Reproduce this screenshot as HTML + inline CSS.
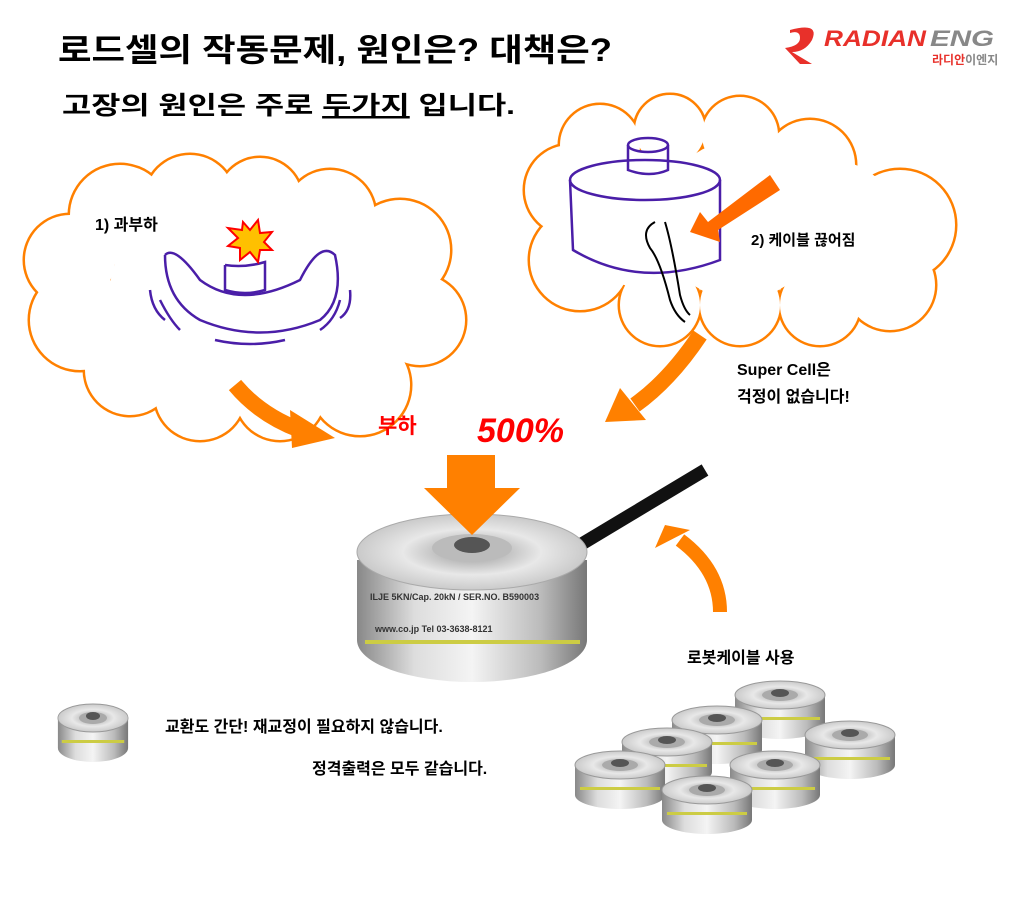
<!DOCTYPE html>
<html><head><meta charset="utf-8"><style>
body{margin:0;background:#fff;width:1020px;height:892px;overflow:hidden}
text{font-family:"Liberation Sans","Noto Sans CJK KR",sans-serif;font-weight:bold}
</style></head><body>
<svg width="1020" height="892" viewBox="0 0 1020 892" xmlns="http://www.w3.org/2000/svg">
<defs>
<linearGradient id="metal" x1="0" x2="1" y1="0" y2="0">
<stop offset="0" stop-color="#888"/><stop offset="0.25" stop-color="#ddd"/><stop offset="0.5" stop-color="#f4f4f4"/><stop offset="0.8" stop-color="#bbb"/><stop offset="1" stop-color="#777"/>
</linearGradient>
<radialGradient id="top" cx="0.5" cy="0.5" r="0.6"><stop offset="0" stop-color="#999"/><stop offset="0.5" stop-color="#e8e8e8"/><stop offset="1" stop-color="#bbb"/></radialGradient>
<g id="cell">
<path d="M-45 0 V30 A45 14 0 0 0 45 30 V0 Z" fill="url(#metal)"/>
<ellipse cx="0" cy="0" rx="45" ry="14" fill="url(#top)" stroke="#999"/>
<ellipse cx="0" cy="0" rx="18" ry="6" fill="#aaa"/>
<ellipse cx="0" cy="-2" rx="9" ry="4" fill="#555"/>
<rect x="-40" y="22" width="80" height="3" fill="#cc4"/>
</g>
<g id="c1">
<circle cx="80" cy="320" r="50"/><circle cx="70" cy="260" r="45"/><circle cx="120" cy="215" r="50"/><circle cx="190" cy="200" r="45"/><circle cx="260" cy="200" r="42"/><circle cx="330" cy="215" r="45"/><circle cx="400" cy="250" r="50"/><circle cx="420" cy="320" r="45"/><circle cx="360" cy="385" r="50"/><circle cx="280" cy="395" r="45"/><circle cx="200" cy="395" r="45"/><circle cx="130" cy="370" r="45"/>
</g>
<g id="c2">
<circle cx="570" cy="190" r="45"/><circle cx="600" cy="145" r="40"/><circle cx="670" cy="130" r="35"/><circle cx="740" cy="135" r="38"/><circle cx="810" cy="165" r="45"/><circle cx="900" cy="225" r="55"/><circle cx="890" cy="285" r="45"/><circle cx="820" cy="305" r="40"/><circle cx="740" cy="305" r="40"/><circle cx="660" cy="305" r="40"/><circle cx="580" cy="260" r="50"/>
</g>
</defs>
<text x="58" y="61" font-size="32" textLength="554" lengthAdjust="spacingAndGlyphs">로드셀의 작동문제, 원인은? 대책은?</text>
<text x="62" y="114" font-size="25" textLength="453" lengthAdjust="spacingAndGlyphs">고장의 원인은 주로 <tspan text-decoration="underline">두가지</tspan> 입니다.</text>
<!-- logo -->
<path d="M790 30 Q820 22 812 40 Q805 52 792 52 L812 64 L800 64 L785 48 Q800 46 800 38 Q800 30 790 33 Z" fill="#e8302a"/>
<text x="824" y="46" font-size="22" fill="#e8302a" font-style="italic" textLength="102" lengthAdjust="spacingAndGlyphs">RADIAN</text>
<text x="930" y="46" font-size="22" fill="#888" font-style="italic" textLength="64" lengthAdjust="spacingAndGlyphs">ENG</text>
<text x="932" y="64" font-size="12" fill="#e8302a">라디안<tspan fill="#888">이엔지</tspan></text>
<!-- clouds -->
<g stroke="#ff8000" stroke-width="5" fill="#fff"><use href="#c1"/><use href="#c2"/></g>
<g fill="#fff"><use href="#c1"/><use href="#c2"/>
<circle cx="250" cy="300" r="90"/><circle cx="180" cy="290" r="70"/><circle cx="330" cy="300" r="70"/>
<circle cx="740" cy="220" r="80"/><circle cx="650" cy="220" r="70"/><circle cx="830" cy="230" r="70"/>
</g>
<!-- cloud1 drawing -->
<g stroke="#4a1ea8" stroke-width="2.5" fill="none">
<path d="M165 255 Q175 245 200 280 Q240 310 300 280 Q320 240 335 255 Q345 300 320 320 Q260 345 200 320 Q165 300 165 255"/>
<path d="M225 265 L225 290 Q245 296 265 290 L265 262 Q245 268 225 265"/>
<path d="M160 300 Q170 320 180 330 M150 290 Q152 310 165 320 M340 300 Q335 320 320 330 M350 290 Q352 310 340 318 M215 340 Q250 348 285 340"/>
</g>
<polygon points="243,222 250,230 258,220 260,233 272,232 264,242 272,250 260,250 258,262 250,252 240,260 240,248 228,246 238,238 228,228 242,230" fill="#ffc000" stroke="#f00" stroke-width="2"/>
<text x="95" y="230" font-size="16">1) 과부하</text>
<!-- cloud2 drawing -->
<g stroke="#4a1ea8" stroke-width="2.5" fill="none">
<ellipse cx="645" cy="180" rx="75" ry="20"/>
<path d="M570 180 L573 250 Q640 290 720 260 L720 180"/>
<path d="M628 145 L628 170 Q650 178 668 170 L668 145"/><ellipse cx="648" cy="145" rx="20" ry="7"/>
</g>
<path d="M655 222 Q640 230 650 248 Q660 260 670 300 Q675 315 685 322 M665 222 Q672 245 680 295 Q684 310 690 315" stroke="#000" stroke-width="2" fill="none"/>
<polygon points="770,175 780,190 718,230 720,242 690,232 700,212 708,222" fill="#ff6a00"/>
<text x="751" y="245" font-size="15">2) 케이블 끊어짐</text>
<!-- arrows -->
<path d="M235 385 Q260 415 300 430" stroke="#ff8000" stroke-width="16" fill="none"/>
<polygon points="290,410 335,438 292,448" fill="#ff8000"/>
<path d="M700 335 Q670 380 635 405" stroke="#ff8000" stroke-width="16" fill="none"/>
<polygon points="620,388 605,422 646,420" fill="#ff8000"/>
<path d="M720 612 Q720 570 680 540" stroke="#ff8000" stroke-width="14" fill="none"/>
<polygon points="665,525 655,548 690,530" fill="#ff8000"/>
<text x="737" y="375" font-size="16">Super Cell은</text>
<text x="737" y="402" font-size="16">걱정이 없습니다!</text>
<text x="378" y="433" font-size="21" fill="#f00">부하</text>
<text x="477" y="442" font-size="34" fill="#f00" font-style="italic">500%</text>
<!-- main load cell -->
<path d="M575 548 L705 470" stroke="#111" stroke-width="13"/>
<path d="M357 560 V640 A115 42 0 0 0 587 640 V560 Z" fill="url(#metal)"/>
<ellipse cx="472" cy="552" rx="115" ry="38" fill="url(#top)" stroke="#aaa"/>
<ellipse cx="472" cy="548" rx="40" ry="14" fill="#bbb"/>
<ellipse cx="472" cy="545" rx="18" ry="8" fill="#555"/>
<text x="370" y="600" font-size="9" fill="#333">ILJE  5KN/Cap. 20kN / SER.NO. B590003</text>
<text x="375" y="632" font-size="9" fill="#333">www.co.jp    Tel 03-3638-8121</text>
<rect x="365" y="640" width="215" height="4" fill="#cc4"/>
<polygon points="447,455 495,455 495,488 520,488 472,535 424,488 447,488" fill="#ff8000"/>
<text x="687" y="663" font-size="16">로봇케이블 사용</text>
<!-- small -->
<use href="#cell" transform="translate(93,718) scale(0.78,1)"/>
<text x="165" y="732" font-size="16">교환도 간단! 재교정이 필요하지 않습니다.</text>
<text x="312" y="774" font-size="16">정격출력은 모두 같습니다.</text>
<use href="#cell" transform="translate(780,695)"/>
<use href="#cell" transform="translate(717,720)"/>
<use href="#cell" transform="translate(850,735)"/>
<use href="#cell" transform="translate(667,742)"/>
<use href="#cell" transform="translate(775,765)"/>
<use href="#cell" transform="translate(620,765)"/>
<use href="#cell" transform="translate(707,790)"/>
</svg>
</body></html>
